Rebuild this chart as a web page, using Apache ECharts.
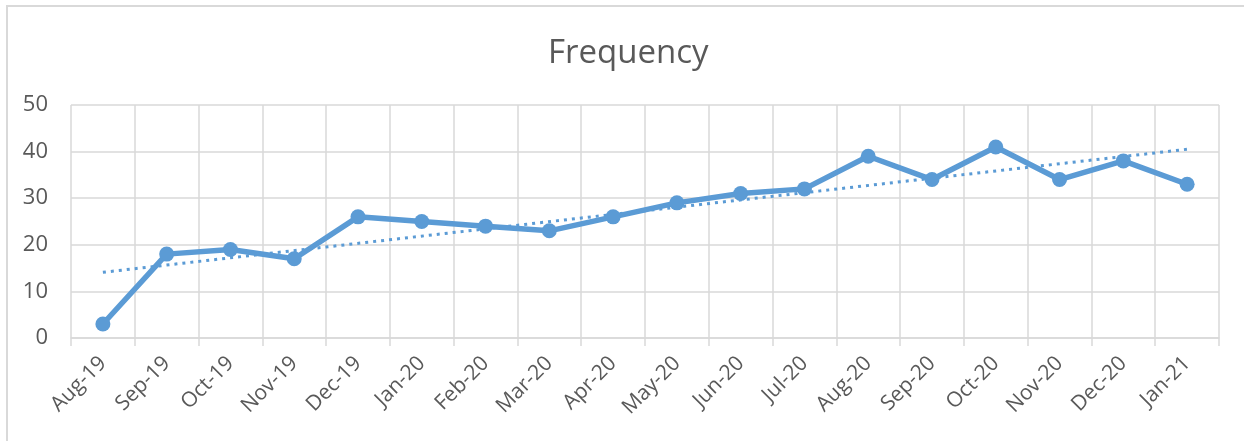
<!DOCTYPE html>
<html lang="en">
<head>
    <meta charset="UTF-8">
    <title>Frequency</title>
    <script src="https://cdn.jsdelivr.net/npm/echarts@6/dist/echarts.min.js"></script>
    <style>
        html, body { margin: 0; padding: 0; background: #fff; }
    </style>
</head>
<body>
<div id="main" style="width: 1244px;height:441px;"></div>
<script type="text/javascript">
    // data
    var months = ['Aug-19', 'Sep-19', 'Oct-19', 'Nov-19', 'Dec-19', 'Jan-20', 'Feb-20', 'Mar-20', 'Apr-20',
        'May-20', 'Jun-20', 'Jul-20', 'Aug-20', 'Sep-20', 'Oct-20', 'Nov-20', 'Dec-20', 'Jan-21'];
    var frequency = [3, 18, 19, 17, 26, 25, 24, 23, 26, 29, 31, 32, 39, 34, 41, 34, 38, 33];
    // trendline end points (first and last month)
    var trendEnds = [14.1, 40.5];

    var trendData = months.map(function (m, i) {
        if (i === 0) return trendEnds[0];
        if (i === months.length - 1) return trendEnds[1];
        return null;
    });

    var txt = '#595959';
    var gridCol = '#d9d9d9';
    var blue = '#5b9bd5';

    var myChart = echarts.init(document.getElementById('main'));
    var option = {
        backgroundColor: '#fff',
        animation: false,
        graphic: [{
            type: 'rect',
            shape: {x: 7, y: 6, width: 1400, height: 600},
            style: {fill: 'none', stroke: gridCol, lineWidth: 2},
            silent: true
        }],
        title: {
            text: 'Frequency',
            left: 543,
            top: 32,
            textStyle: {
                fontFamily: 'Open Sans',
                fontWeight: 'normal',
                fontSize: 33,
                color: txt
            }
        },
        grid: {
            left: 71,
            right: 25,
            top: 105,
            bottom: 103
        },
        xAxis: {
            type: 'category',
            data: months,
            boundaryGap: true,
            axisLine: {lineStyle: {color: gridCol, width: 1.5}},
            axisTick: {show: true, length: 8, lineStyle: {color: gridCol, width: 1.5}},
            splitLine: {show: true, lineStyle: {color: gridCol, width: 1.5}},
            axisLabel: {
                interval: 0,
                rotate: 45,
                margin: 22,
                fontFamily: 'Open Sans',
                fontSize: 21,
                color: txt
            }
        },
        yAxis: {
            type: 'value',
            min: 0,
            max: 50,
            interval: 10,
            axisLine: {show: false},
            axisTick: {show: false},
            splitLine: {lineStyle: {color: gridCol, width: 1.5}},
            axisLabel: {
                margin: 23,
                fontFamily: 'Open Sans',
                fontSize: 22,
                color: txt
            }
        },
        series: [
            {
                name: 'Frequency',
                type: 'line',
                data: frequency,
                symbol: 'circle',
                symbolSize: 15,
                itemStyle: {color: blue},
                lineStyle: {color: blue, width: 5.5},
                z: 3
            },
            {
                name: 'Linear (Frequency)',
                type: 'line',
                data: trendData,
                connectNulls: true,
                symbol: 'none',
                lineStyle: {color: blue, width: 3, type: [3, 5]},
                z: 2
            }
        ]
    };
    myChart.setOption(option);
</script>
</body>
</html>
